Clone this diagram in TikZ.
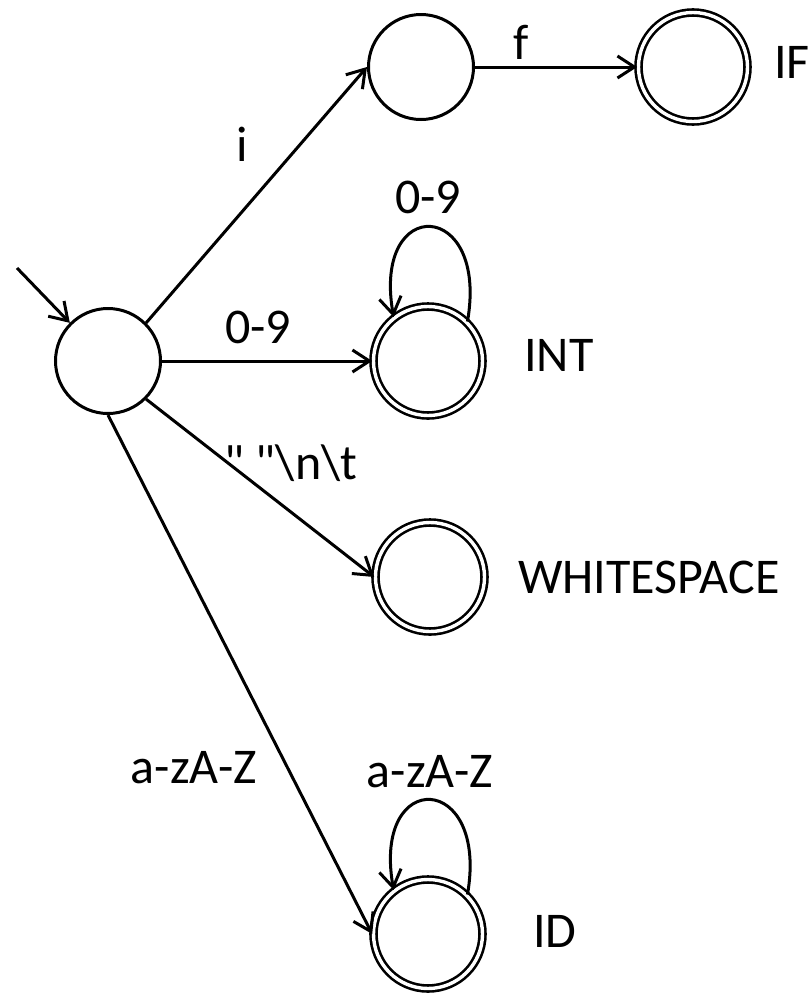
\documentclass[tikz,border=0pt]{standalone}
\usepackage{fontspec}
\setmainfont{Carlito}[Ligatures=TeXOff]
\usetikzlibrary{positioning,arrows.meta}

\begin{document}
\begin{tikzpicture}[x=1pt,y=1pt,on grid,
        >={Straight Barb[length=17pt,width=22pt]},
        every node/.style={font=\fontsize{50}{60}\selectfont},
        state/.style={circle,draw,line width=3pt,minimum size=105pt,inner sep=0pt},
        accept/.style={circle,draw,line width=2.6pt,double,double distance=3.4pt,minimum size=109pt,inner sep=0pt},
        txt/.style={inner sep=0pt},
        arc/.style={->,line width=3pt}]
        \useasboundingbox (0,0) rectangle (810,-994);

        \node[state] (start) at (108,-361) {};
        \node[state] (t) [above right=294pt and 313pt of start] {};
        \node[accept] (if) [right=272pt of t] {};
        \node[accept] (int) [right=320pt of start] {};
        \node[accept] (ws) [below right=216pt and 322pt of start] {};
        \node[accept] (id) [below right=573pt and 320pt of start] {};
        \coordinate (init) at (17,-268);

        % token names
        \node[txt,anchor=west] (ifname) at (774,-62) {IF};
        \node[txt,anchor=west] (intname) at (524,-355) {INT};
        \node[txt,anchor=west] (wsname) at (518,-577) {WHITESPACE};
        \node[txt,anchor=west] (idname) at (533,-931) {ID};

        % edge labels
        \node[txt] (li) at (242,-144) {i};
        \node[txt] (lf) at (521,-42) {f};
        \node[txt] (ldig) at (258,-327) {0-9};
        \node[txt] (ldigloop) at (428,-197) {0-9};
        \node[txt] (lws) at (291,-463) {" "\textbackslash n\textbackslash t};
        \node[txt] (lal) at (194,-768) {a-zA-Z};
        \node[txt] (lalloop) at (430,-772) {a-zA-Z};

        \draw[arc] (init) -- (start.135);
        \draw[arc] (start.45) -- (t.west);
        \draw[arc] (t) -- (if);
        \draw[arc] (start) -- (int);
        \draw[arc] (start.-45) -- (ws.west);
        \draw[arc] (start.south) -- (id.west);
        \draw[arc] (int.45) .. controls +(80:125) and +(100:125) .. (int.128);
        \draw[arc] (id.45) .. controls +(80:125) and +(100:125) .. (id.128);
    \end{tikzpicture}
\end{document}
